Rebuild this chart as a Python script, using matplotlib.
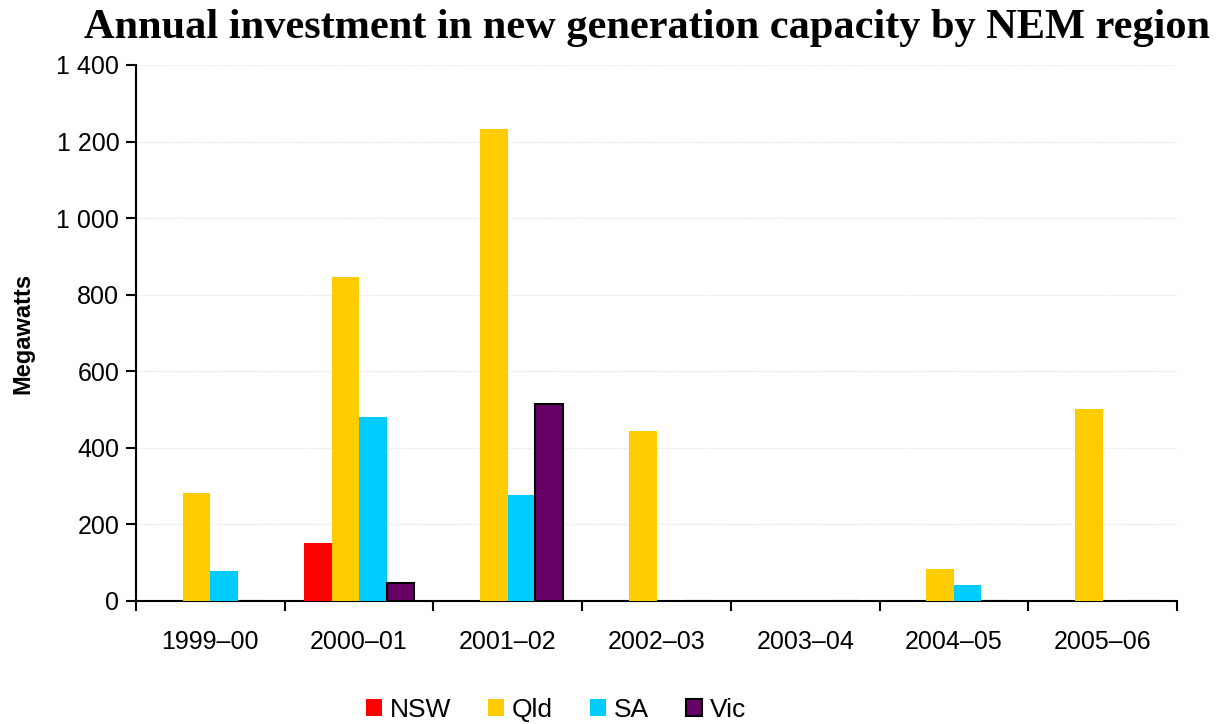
import matplotlib
matplotlib.use("Agg")
import matplotlib.pyplot as plt
import numpy as np
from matplotlib.ticker import FuncFormatter, FixedLocator

categories = ["1999–00", "2000–01", "2001–02", "2002–03", "2003–04", "2004–05", "2005–06"]
series_names = ["NSW", "Qld", "SA", "Vic"]
nsw = [0, 151, 0, 0, 0, 0, 0]
qld = [282, 846, 1232, 444, 0, 84, 501]
sa = [78, 480, 277, 0, 0, 42, 0]
vic = [0, 47, 514, 0, 0, 0, 0]
colors = ["#FF0000", "#FFCC00", "#00CCFF", "#660066"]
yticks = [0, 200, 400, 600, 800, 1000, 1200, 1400]

plt.rcParams['font.family'] = ['Liberation Sans', 'DejaVu Sans']
fig = plt.figure(figsize=(12.21, 7.24), dpi=100)
ax = fig.add_axes([136/1221, 1-601/724, (1177-136)/1221, (601-65)/724])

x = np.arange(len(categories))
w = 0.185
data = [nsw, qld, sa, vic]
for i, (name, vals, c) in enumerate(zip(series_names, data, colors)):
    offs = (i - 1.5) * w
    if name == "Vic":
        ax.bar(x + offs, vals, w, color=c, edgecolor="black", linewidth=1.5, label=name, zorder=3)
    else:
        ax.bar(x + offs, vals, w, color=c, edgecolor="none", label=name, zorder=3)

ax.set_xlim(-0.5, len(categories) - 0.5)
ax.set_ylim(0, 1400)
ax.set_yticks(yticks)
ax.yaxis.set_major_formatter(FuncFormatter(lambda v, p: f"{int(v):,}".replace(",", " ")))
ax.grid(axis="y", color="#EBEBEB", linestyle=(0, (2, 1)), linewidth=1, zorder=0)

ax.xaxis.set_major_locator(FixedLocator(np.arange(len(categories) + 1) - 0.5))
ax.xaxis.set_major_formatter(FuncFormatter(lambda v, p: ""))
ax.set_xticks(x, minor=True)
ax.set_xticklabels(categories, minor=True)
ax.tick_params(axis="x", which="minor", length=0, pad=21, labelsize=18)
ax.tick_params(axis="x", which="major", length=7, width=1.5, direction="out")
ax.tick_params(axis="y", length=7, width=1.5, direction="out", labelsize=18, pad=5)

for s in ["top", "right"]:
    ax.spines[s].set_visible(False)
ax.spines["left"].set_linewidth(1.5)
ax.spines["bottom"].set_linewidth(1.5)

ax.set_ylabel("Megawatts", fontsize=17, fontweight="bold", labelpad=16)
fig.text(0.53, 0.961, "Annual investment in new generation capacity by NEM region",
         ha="center", va="center", fontsize=30.5, fontweight="bold", family="Liberation Serif")

fig.legend(loc="center", bbox_to_anchor=(0.4555, 0.02), ncol=4, frameon=False,
           fontsize=19, handlelength=0.6, handleheight=0.6, handletextpad=0.3, columnspacing=1.4,
           borderaxespad=0, borderpad=0)

fig.savefig("out.png", dpi=100)
